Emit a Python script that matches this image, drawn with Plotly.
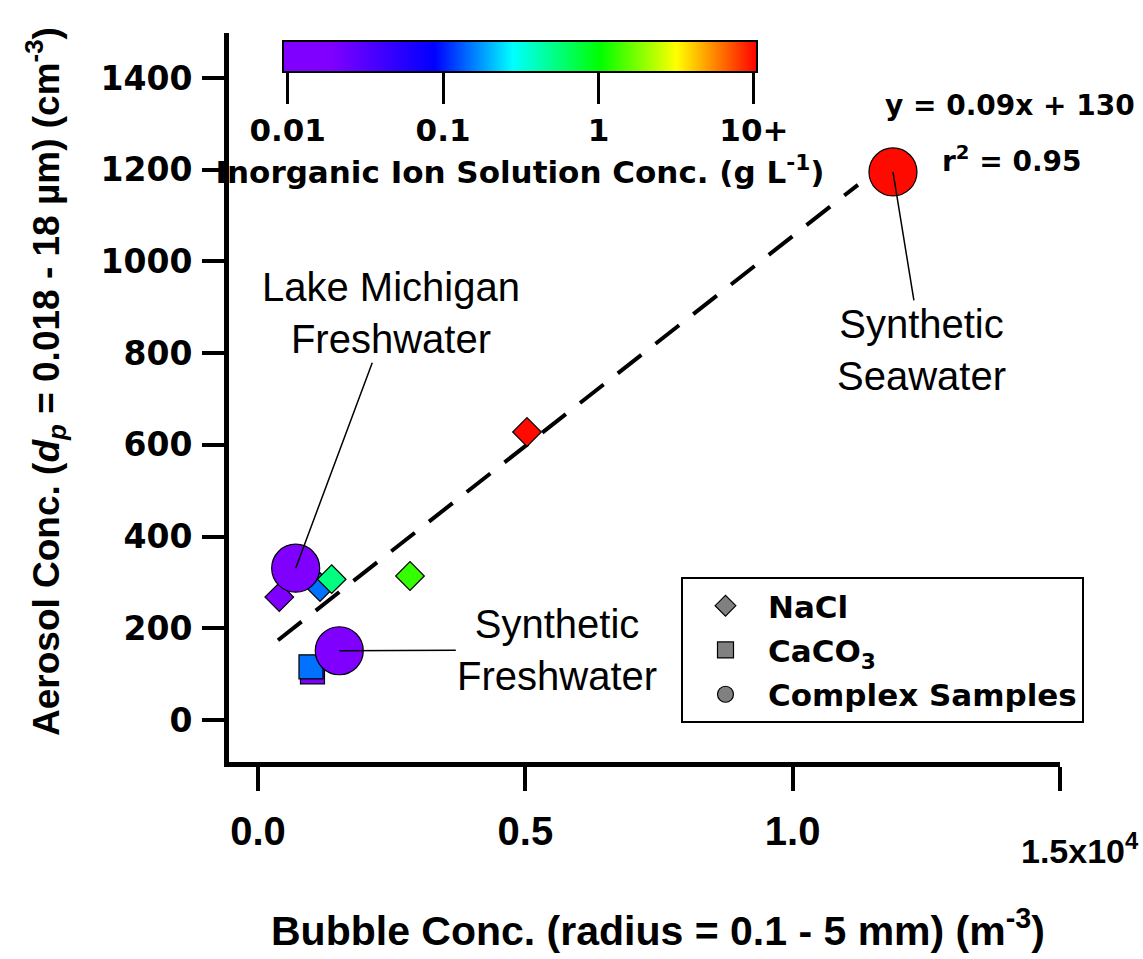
import numpy as np
import plotly.graph_objects as go

W, H = 1143, 959
L, R, T, B = 229, 83, 33, 197

# ---------------- data ----------------
nacl_x = [398, 1160, 1378, 2843, 5031]
nacl_y = [268, 290, 307, 314, 628]
nacl_conc = [0.01, 0.148, 0.54, 1.29, 10]

caco3_x = [1019, 991]
caco3_y = [105, 116]
caco3_conc = [0.01, 0.148]

cplx_x = [705, 1520, 11876]
cplx_y = [331, 151, 1195]
cplx_conc = [0.01, 0.01, 10]
cplx_names = ["Lake Michigan<br>Freshwater", "Synthetic<br>Freshwater", "Synthetic<br>Seawater"]

fit_x = [374, 11221]
fit_y = [174, 1167]

x_tickvals = [0, 5000, 10000, 15000]
x_ticktext = ["0.0", "0.5", "1.0", ""]
y_tickvals = [0, 200, 400, 600, 800, 1000, 1200, 1400]
cb_tickvals = [0.01, 0.1, 1, 10]
cb_ticktext = ["0.01", "0.1", "1", "10+"]

# ---------------- style ----------------
CMIN, CMAX = -2.03, 1.02
cscale = [[0, "#8000ff"], [0.1, "#8000ff"], [0.32, "#0000ff"], [0.485, "#00ffff"],
          [0.67, "#00ff00"], [0.83, "#ffff00"], [1, "#ff0000"]]
WIDE = "DejaVu Sans"
ARIAL = "Liberation Sans, Arial"
PW = W - L - R
PH = H - T - B

def px_x(px):
    return (px - L) / PW

def px_y(py):
    return (H - B - py) / PH

def mk(symbol, size, conc, showscale=False):
    m = dict(symbol=symbol, size=size, color=np.log10(conc), colorscale=cscale,
             cmin=CMIN, cmax=CMAX, line=dict(color="black", width=1.2), opacity=1,
             showscale=showscale)
    if showscale:
        m["colorbar"] = dict(
            orientation="h",
            x=px_x(283), xanchor="left", y=px_y(41), yanchor="top",
            len=474, lenmode="pixels", thickness=31, thicknessmode="pixels",
            xpad=0, ypad=0, outlinewidth=2, outlinecolor="black",
            ticks="outside", ticklen=31, tickwidth=3, tickcolor="black",
            tickvals=list(np.log10(cb_tickvals)), ticktext=cb_ticktext,
            tickfont=dict(family=WIDE, size=31, color="black", weight="bold"),
            title=dict(text="Inorganic Ion Solution Conc. (g L<sup>-1</sup>)", side="bottom",
                       font=dict(family=WIDE, size=31, color="black", weight="bold")),
        )
    return m

fig = go.Figure()

# fit line
fig.add_trace(go.Scatter(x=fit_x, y=fit_y, mode="lines", showlegend=False,
                         line=dict(color="black", width=4, dash="30px,18px"), hoverinfo="skip"))

back = [0, 1]
front = [2, 3, 4]
nx, ny, nc = np.array(nacl_x), np.array(nacl_y), np.array(nacl_conc)

fig.add_trace(go.Scatter(x=nx[back], y=ny[back], mode="markers", showlegend=False,
                         marker=mk("diamond", 22, nc[back])))
fig.add_trace(go.Scatter(x=caco3_x, y=caco3_y, mode="markers", showlegend=False,
                         marker=mk("square", 24, np.array(caco3_conc))))
fig.add_trace(go.Scatter(x=cplx_x, y=cplx_y, mode="markers", showlegend=False,
                         marker=mk("circle", 48, np.array(cplx_conc), showscale=True)))
fig.add_trace(go.Scatter(x=nx[front], y=ny[front], mode="markers", showlegend=False,
                         marker=mk("diamond", 22, nc[front])))

# legend entries
for name, sym, grp in [("NaCl", "diamond", "a"), ("CaCO<sub>3</sub>", "square", "b"),
                       ("Complex Samples", "circle", "c")]:
    fig.add_trace(go.Scatter(x=[None], y=[None], mode="markers", name=name, legendgroup=grp,
                             marker=dict(symbol=sym, size=16, color="#808080",
                                         line=dict(color="black", width=1.2))))

# leader annotations
offsets = [(95, -255), (218, -1), (29, 178)]
for xv, yv, txt, (axp, ayp) in zip(cplx_x, cplx_y, cplx_names, offsets):
    fig.add_annotation(x=xv, y=yv, text=txt, showarrow=True, arrowhead=0, arrowwidth=1.5,
                       arrowcolor="black", ax=axp, ay=ayp,
                       font=dict(family=ARIAL, size=40, color="black"), align="center")

def note(px, py, text, family, size, bold=True, angle=0):
    fig.add_annotation(xref="paper", yref="paper", x=px_x(px), y=px_y(py), showarrow=False,
                       xanchor="center", yanchor="middle", text=text, textangle=angle,
                       font=dict(family=family, size=size, color="black",
                                 weight="bold" if bold else "normal"))

note(1010, 105, "y = 0.09x + 130", WIDE, 28)
note(1012, 160, "r<sup>2</sup> = 0.95", WIDE, 28)
note(1080, 848, "1.5x10<sup>4</sup>", ARIAL, 34)
note(658, 928, "Bubble Conc. (radius = 0.1 - 5 mm) (m<sup>-3</sup>)", ARIAL, 41)
note(45, 382, "Aerosol Conc. (<i>d<sub>p</sub></i> = 0.018 - 18 µm) (cm<sup>-3</sup>)",
     ARIAL, 37, angle=-90)

x_lo = (L - 258) / 0.05347
y_lo = (720 - (H - B)) / 0.4586
y_hi = (720 - T) / 0.4586

fig.update_layout(
    width=W, height=H, margin=dict(l=L, r=R, t=T, b=B, pad=0, autoexpand=False),
    paper_bgcolor="white", plot_bgcolor="white",
    xaxis=dict(range=[x_lo, 15000], showgrid=False, zeroline=False, showline=True,
               linecolor="black", linewidth=5, ticks="outside", ticklen=24, tickwidth=4,
               tickcolor="black", tickvals=x_tickvals, ticktext=x_ticktext,
               ticklabelstandoff=6,
               tickfont=dict(family=ARIAL, size=40, color="black", weight="bold")),
    yaxis=dict(range=[y_lo, y_hi], showgrid=False, zeroline=False, showline=True,
               linecolor="black", linewidth=5, ticks="outside", ticklen=22, tickwidth=4,
               tickcolor="black", tickvals=y_tickvals, ticklabelstandoff=3,
               tickfont=dict(family=WIDE, size=33, color="black", weight="bold")),
    legend=dict(x=px_x(681), y=px_y(577),
                xanchor="left", yanchor="top", bordercolor="black", borderwidth=2,
                bgcolor="white", tracegroupgap=1, itemwidth=75,
                font=dict(family=WIDE, size=31, color="black", weight="bold")),
    showlegend=True,
)

fig.write_html("out.html")
